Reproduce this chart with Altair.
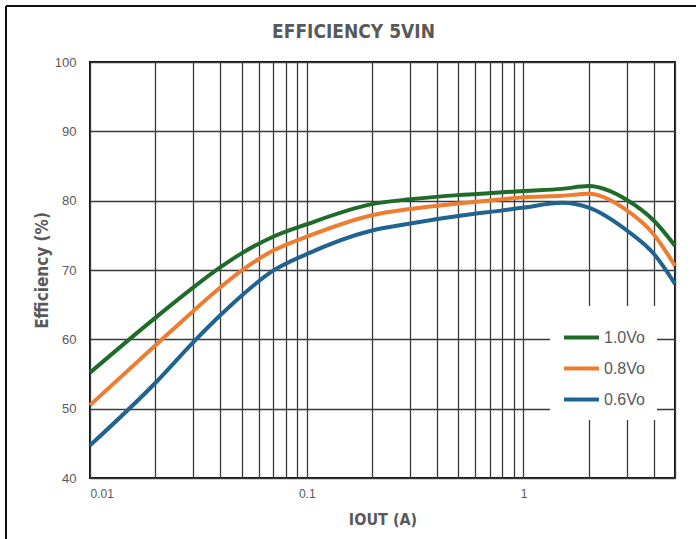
import altair as alt
import pandas as pd

# Output current (A) and efficiency (%) for each output voltage
iout = [0.01, 0.02, 0.03, 0.04, 0.05, 0.07, 0.1, 0.2, 0.3, 0.5, 0.8, 1.0, 1.5, 2.0, 3.0, 4.0, 5.0]
eff_10 = [55.2, 63.1, 67.5, 70.4, 72.4, 74.8, 76.6, 79.5, 80.2, 80.8, 81.2, 81.4, 81.7, 82.1, 80.1, 77.1, 73.5]
eff_08 = [50.5, 59.1, 64.1, 67.5, 69.9, 72.8, 74.8, 77.9, 78.8, 79.6, 80.2, 80.5, 80.7, 81.0, 78.6, 75.1, 70.6]
eff_06 = [44.7, 53.7, 59.6, 63.5, 66.3, 69.9, 72.3, 75.7, 76.7, 77.8, 78.6, 79.0, 79.7, 79.0, 75.7, 72.3, 68.0]

series = ["1.0Vo", "0.8Vo", "0.6Vo"]
colors = ["#1e6b2a", "#ed7d31", "#1f6391"]

x_grid = [m * 10.0 ** e for e in (-2, -1, 0) for m in range(1, 10)] + [2, 3, 4, 5]
x_grid = sorted(set(round(v, 4) for v in x_grid if v <= 5))
y_ticks = [40, 50, 60, 70, 80, 90, 100]

rows = []
for name, vals in zip(series, [eff_10, eff_08, eff_06]):
    for xv, yv in zip(iout, vals):
        rows.append({"iout": xv, "eff": yv, "series": name})
df = pd.DataFrame(rows)

label_font = "Liberation Sans"
heading_font = "'DejaVu Sans Condensed', 'Liberation Sans', sans-serif"
gray = "#595959"

lines = alt.Chart(df).mark_line(strokeWidth=4, interpolate="monotone").encode(
    x=alt.X(
        "iout:Q",
        scale=alt.Scale(type="log", domain=[0.01, 5], nice=False),
        axis=alt.Axis(
            values=x_grid,
            labelExpr="(datum.value == 0.01 || datum.value == 0.1 || datum.value == 1) ? toString(datum.value) : ''",
            title="IOUT (A)",
            grid=True,
            gridColor="#3a3a3a",
            gridWidth=1.3,
            gridOpacity=1,
            domain=False,
            ticks=False,
            labelPadding=10,
            labelFontSize=12,
            labelColor=gray,
            labelFont=label_font,
            titleFontSize=16,
            titleFont=heading_font,
            titleColor=gray,
            titleFontWeight="bold",
            titlePadding=12,
        ),
    ),
    y=alt.Y(
        "eff:Q",
        scale=alt.Scale(domain=[40, 100], nice=False, zero=False),
        axis=alt.Axis(
            values=y_ticks,
            title="Efficiency (%)",
            grid=True,
            gridColor="#3a3a3a",
            gridWidth=1.3,
            gridOpacity=1,
            domain=False,
            ticks=False,
            labelPadding=14,
            labelFontSize=13,
            labelColor=gray,
            labelFont=label_font,
            titleFontSize=17,
            titleFont=heading_font,
            titleColor=gray,
            titleFontWeight="bold",
            titlePadding=3,
        ),
    ),
    color=alt.Color(
        "series:N",
        scale=alt.Scale(domain=series, range=colors),
        sort=series,
        legend=alt.Legend(
            title=None,
            orient="none",
            legendX=460,
            legendY=244,
            fillColor="white",
            padding=12,
            symbolType="stroke",
            symbolSize=1225,
            symbolStrokeWidth=4,
            labelFontSize=16,
            labelFont=label_font,
            labelColor=gray,
            labelOffset=3,
            rowPadding=3,
        ),
    ),
)

# Outer frame lines around the figure
frame_data = alt.Data(values=[{"k": 0}])
frame_left = alt.Chart(frame_data).mark_rule(color="#111", strokeWidth=2).encode(
    x=alt.value(-84), y=alt.value(-56), y2=alt.value(600)
)
frame_top = alt.Chart(frame_data).mark_rule(color="#111", strokeWidth=2).encode(
    x=alt.value(-84), x2=alt.value(700), y=alt.value(-56)
)

chart = (
    alt.layer(lines, frame_left, frame_top)
    .properties(
        width=585,
        height=416,
        padding={"left": 90, "top": 62, "right": 21, "bottom": 61},
        autosize=alt.AutoSizeParams(type="none"),
        title=alt.TitleParams(
            "EFFICIENCY 5VIN",
            anchor="middle",
            frame="group",
            dx=-29,
            offset=-52,
            baseline="alphabetic",
            fontSize=19,
            font=heading_font,
            fontWeight="bold",
            color=gray,
        ),
        background="white",
    )
    .configure_view(stroke="#111", strokeWidth=2)
)

chart.save("out.html", embed_options={"renderer": "svg", "actions": False})
